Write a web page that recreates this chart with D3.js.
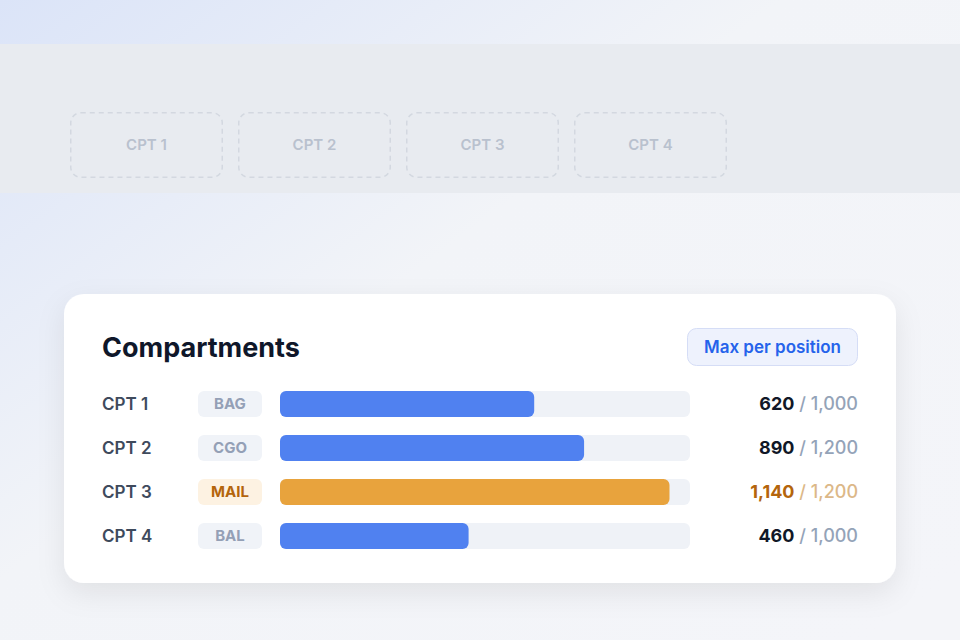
<!DOCTYPE html>
<html>
<head>
<meta charset="utf-8">
<script src="https://cdn.jsdelivr.net/npm/d3@7"></script>
<style>
  html, body { margin: 0; padding: 0; background: #f3f4f8; }
  svg { display: block; font-family: Inter, "Noto Sans", sans-serif; }
</style>
</head>
<body>
<div id="chart"></div>
<script>
// compartment data
const compartments = ["CPT 1", "CPT 2", "CPT 3", "CPT 4"];
const contents = ["BAG", "CGO", "MAIL", "BAL"];
const loads = [620, 890, 1140, 460];
const capacities = [1000, 1200, 1200, 1000];
const highlighted = ["CPT 3"];

const width = 960, height = 640;
const fmt = d3.format(",");

const svg = d3.select("#chart").append("svg")
  .attr("width", width)
  .attr("height", height);

const defs = svg.append("defs");

// page background gradient
const bg = defs.append("linearGradient")
  .attr("id", "bg").attr("x1", "0").attr("y1", "0").attr("x2", "1").attr("y2", "0.9");
bg.append("stop").attr("offset", "0").attr("stop-color", "#dbe4f8");
bg.append("stop").attr("offset", "0.45").attr("stop-color", "#f2f4f8");
bg.append("stop").attr("offset", "1").attr("stop-color", "#f4f5f9");

const shadow = defs.append("filter").attr("id", "shadow")
  .attr("x", "-10%").attr("y", "-20%").attr("width", "120%").attr("height", "150%");
shadow.append("feDropShadow")
  .attr("dx", 0).attr("dy", 10).attr("stdDeviation", 14)
  .attr("flood-color", "#0f172a").attr("flood-opacity", 0.08);

svg.append("rect").attr("width", width).attr("height", height).attr("fill", "url(#bg)");

// faded layout strip behind the card
svg.append("rect")
  .attr("x", -20).attr("y", 44).attr("width", width + 40).attr("height", 149)
  .attr("rx", 12)
  .attr("fill", "#e8ebf0");

// 4 slots, 153 wide, 168 apart
const slot = d3.scaleBand().domain(compartments).range([70, 727]).paddingInner(15 / 168);

const slots = svg.append("g").selectAll("g")
  .data(compartments)
  .join("g")
    .attr("transform", d => `translate(${slot(d)},112)`);

slots.append("rect")
  .attr("x", 0.75).attr("y", 0.75)
  .attr("width", slot.bandwidth() - 1.5).attr("height", 64.5)
  .attr("rx", 10)
  .attr("fill", "none")
  .attr("stroke", "#d3d8e0")
  .attr("stroke-width", 1.5)
  .attr("stroke-dasharray", "5 4");

slots.append("text")
  .attr("x", slot.bandwidth() / 2).attr("y", 33)
  .attr("dy", "0.35em")
  .attr("text-anchor", "middle")
  .attr("font-size", 15).attr("font-weight", 600)
  .attr("fill", "#b9c1ce")
  .text(d => d);

// card
const card = svg.append("g").attr("transform", "translate(64,294)");
card.append("rect")
  .attr("width", 832).attr("height", 289)
  .attr("rx", 20)
  .attr("fill", "#fff")
  .attr("filter", "url(#shadow)");

card.append("text")
  .attr("x", 38).attr("y", 63)
  .attr("font-size", 27).attr("font-weight", 700)
  .attr("fill", "#0f172a")
  .text("Compartments");

const btn = card.append("g").attr("transform", "translate(623,34)");
btn.append("rect")
  .attr("x", 0.5).attr("y", 0.5).attr("width", 170).attr("height", 37)
  .attr("rx", 9)
  .attr("fill", "#eef2fd").attr("stroke", "#d5ddf6");
btn.append("text")
  .attr("x", 85.5).attr("y", 19.5).attr("dy", "0.35em")
  .attr("text-anchor", "middle")
  .attr("font-size", 17).attr("font-weight", 600)
  .attr("fill", "#2563eb")
  .text("Max per position");

// rows
const rows = compartments.map((c, i) => ({
  name: c, content: contents[i], load: loads[i], cap: capacities[i],
  hot: highlighted.includes(c)
}));

const y = d3.scaleBand().domain(compartments).range([88, 88 + 44 * 4]).padding(0);
const trackX = 216, trackW = 410, barH = 26;
const x = d3.scaleLinear().domain([0, 1]).range([0, trackW]);

const row = card.append("g").selectAll("g")
  .data(rows)
  .join("g")
    .attr("transform", d => `translate(0,${y(d.name) + y.bandwidth() / 2})`);

row.append("text")
  .attr("x", 38).attr("dy", "0.35em")
  .attr("font-size", 17).attr("font-weight", 600)
  .attr("fill", "#3e4a5c")
  .text(d => d.name);

row.append("rect")
  .attr("x", 134).attr("y", -barH / 2)
  .attr("width", 64).attr("height", barH)
  .attr("rx", 6)
  .attr("fill", d => d.hot ? "#fdf2e2" : "#f0f3f8");

row.append("text")
  .attr("x", 166).attr("dy", "0.36em")
  .attr("text-anchor", "middle")
  .attr("font-size", 15).attr("font-weight", 700)
  .attr("fill", d => d.hot ? "#b4650c" : "#94a0b6")
  .text(d => d.content);

row.append("rect")
  .attr("x", trackX).attr("y", -barH / 2)
  .attr("width", trackW).attr("height", barH)
  .attr("rx", 6)
  .attr("fill", "#eff2f7");

row.append("rect")
  .attr("x", trackX).attr("y", -barH / 2)
  .attr("width", d => x(d.load / d.cap)).attr("height", barH)
  .attr("rx", 6)
  .attr("fill", d => d.hot ? "#e8a33d" : "#5081f0");

const val = row.append("text")
  .attr("x", 794).attr("dy", "0.35em")
  .attr("text-anchor", "end")
  .attr("font-size", 18);

val.append("tspan")
  .attr("font-weight", 700)
  .attr("fill", d => d.hot ? "#b4650c" : "#111827")
  .text(d => fmt(d.load));

val.append("tspan")
  .attr("font-weight", 500)
  .attr("fill", d => d.hot ? "#dcb888" : "#94a3b8")
  .text(d => " / " + fmt(d.cap));
</script>
</body>
</html>
